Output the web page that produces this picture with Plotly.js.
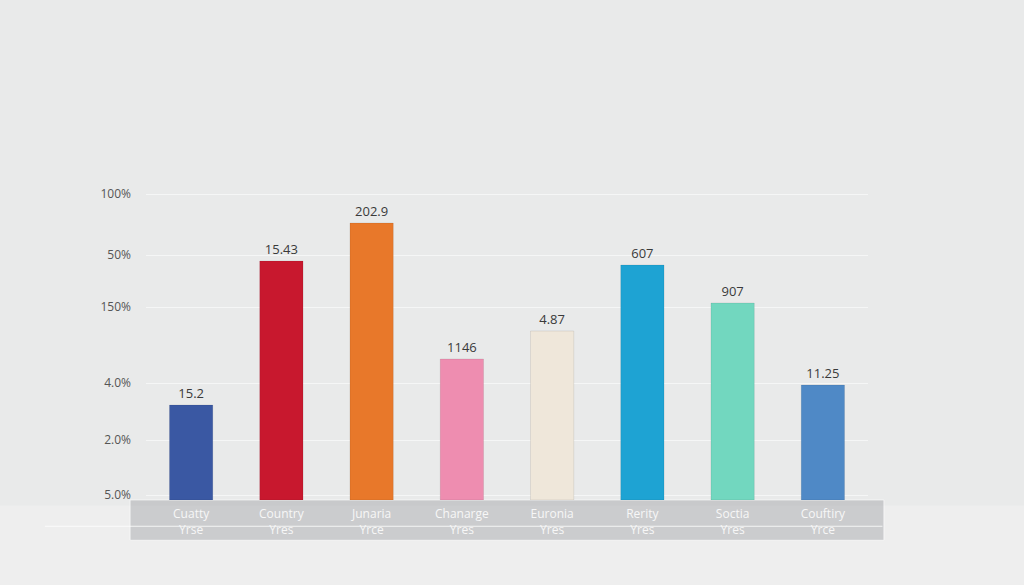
<!DOCTYPE html>
<html><head><meta charset="utf-8">
<script src="https://cdn.plot.ly/plotly-3.0.1.min.js"></script>
<style>html,body{margin:0;padding:0;background:#e9eaea;}</style>
</head><body>
<div id="chart" style="width:1024px;height:585px;"></div>
<script>
const categories = ["Cuatty<br>Yrse", "Country<br>Yres", "Junaria<br>Yrce", "Chanarge<br>Yres", "Euronia<br>Yres", "Rerity<br>Yres", "Soctia<br>Yres", "Couftiry<br>Yrce"];
const barHeights = [95, 239, 277, 141, 169, 235, 197, 115];
const valueLabels = ["15.2", "15.43", "202.9", "1146", "4.87", "607", "907", "11.25"];
const barColors = ["#3a58a3", "#c8182e", "#e8782a", "#ee8db0", "#efe7da", "#1ea3d3", "#72d7bf", "#4f89c6"];
const tickVals = [5, 60, 117, 193, 245, 306];
const tickLabels = ["5.0%", "2.0%", "4.0%", "150%", "50%", "100%"];

const trace = {
  type: "bar",
  x: categories,
  y: barHeights,
  text: valueLabels,
  textposition: "outside",
  cliponaxis: false,
  textfont: {family: "Open Sans, DejaVu Sans, sans-serif", size: 13, color: "#3a3a3a"},
  marker: {color: barColors, line: {color: "rgba(0,0,0,0.08)", width: 1}},
  hoverinfo: "skip"
};

const layout = {
  width: 1024, height: 585,
  margin: {l: 146, r: 156, t: 150, b: 85},
  paper_bgcolor: "#e9eaea",
  plot_bgcolor: "rgba(0,0,0,0)",
  bargap: 0.52,
  showlegend: false,
  font: {family: "Open Sans, DejaVu Sans, sans-serif"},
  xaxis: {
    type: "category",
    showgrid: false, zeroline: false, showline: false,
    ticks: "",
    tickfont: {size: 12, color: "#f7f7f7"},
    ticklabelstandoff: 5
  },
  yaxis: {
    range: [0, 350],
    tickvals: tickVals,
    ticktext: tickLabels,
    tickfont: {size: 12, color: "#555"},
    showgrid: true,
    gridcolor: "rgba(255,255,255,0.55)",
    gridwidth: 1,
    zeroline: false, showline: false,
    ticks: "",
    ticklabelstandoff: 14
  },
  shapes: [
    {type: "rect", xref: "paper", yref: "paper", x0: -1, x1: 2, y0: -0.25, y1: -0.016,
     fillcolor: "rgba(238,238,238,1)", line: {width: 0}, layer: "below"},
    {type: "rect", xref: "paper", yref: "paper", x0: -0.022, x1: 1.022, y0: -0.115, y1: 0.0,
     fillcolor: "rgba(160,162,166,0.45)", line: {color: "rgba(255,255,255,0.6)", width: 1}, layer: "below"},
    {type: "line", xref: "paper", yref: "paper", x0: -0.14, x1: 1.02, y0: -0.075, y1: -0.075,
     line: {color: "rgba(255,255,255,0.8)", width: 1}, layer: "below"}
  ]
};

Plotly.newPlot("chart", [trace], layout, {displayModeBar: false, staticPlot: true});
</script>
</body></html>
